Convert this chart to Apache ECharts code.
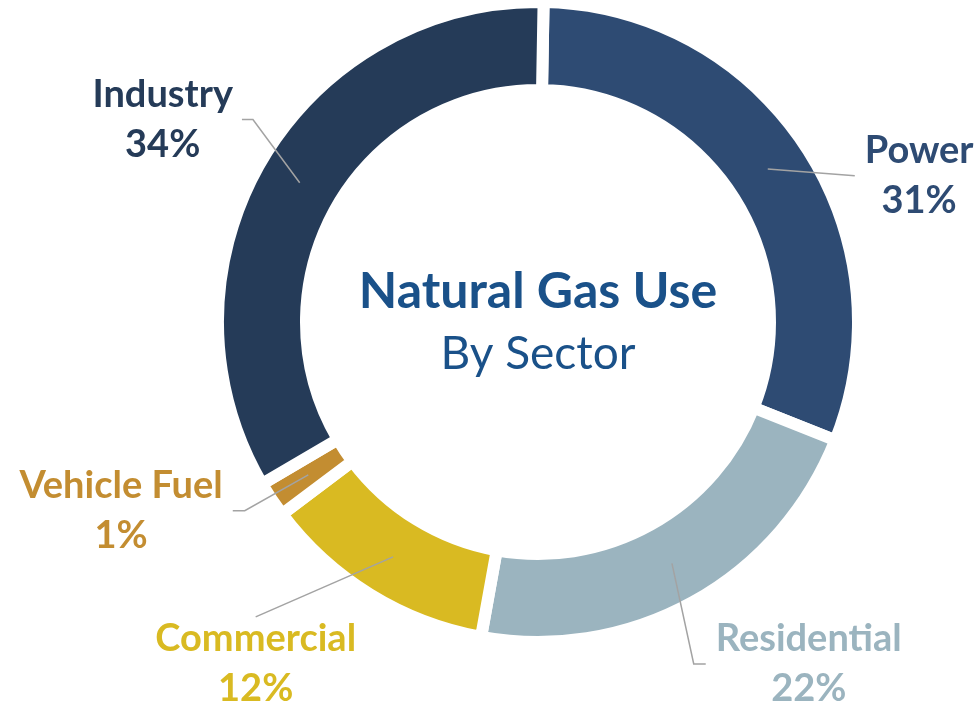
<!DOCTYPE html>
<html>
<head>
<meta charset="utf-8">
<script src="https://cdn.jsdelivr.net/npm/echarts@6/dist/echarts.min.js"></script>
<style>
html, body { margin: 0; padding: 0; background: #ffffff; }
#chart { width: 979px; height: 706px; }
</style>
</head>
<body>
<div id="chart"></div>
<script>
// ---- data ----
const categories = ['Power', 'Residential', 'Commercial', 'Vehicle Fuel', 'Industry'];
const shares = [31, 22, 12, 1, 34];
const titleText = 'Natural Gas Use';
const subtitleText = 'By Sector';

// ---- styles ----
const sliceColors = ['#2E4B73', '#9BB4BF', '#D9BA22', '#C38D31', '#253B58'];
const leadLength = [-12, 115, 125.7, 64.5, 125.4];
const leadLength2 = [97, -22, -34, 21.8, -50.5];
const labelGap = [10, 10, 5, 10, 9];
const leadStub = [0, 12, 0, 12, 11];
const leadMode = ['side', 'side', 'top', 'side', 'side'];

const FONT = 'Lato, "Noto Sans", sans-serif';
const CENTER = [538, 322];
const MIN_ANGLE = 6.5;

const ringData = categories.map((name, i) => ({
  name: name,
  value: shares[i],
  itemStyle: { color: sliceColors[i] }
}));

const labelData = categories.map((name, i) => ({
  name: name,
  value: shares[i],
  label: {
    color: sliceColors[i],
    distanceToLabelLine: labelGap[i],
    rich: {
      n: { color: sliceColors[i], fontFamily: FONT, fontSize: 38, fontWeight: 'bold', lineHeight: 50, align: 'center' },
      p: { color: sliceColors[i], fontFamily: FONT, fontSize: 38, fontWeight: 'bold', lineHeight: 50, align: 'center' }
    }
  },
  labelLine: { length: leadLength[i], length2: leadLength2[i] }
}));

const chart = echarts.init(document.getElementById('chart'), null, { renderer: 'canvas' });
chart.setOption({
  animation: false,
  backgroundColor: '#ffffff',
  title: {
    text: titleText,
    subtext: subtitleText,
    left: CENTER[0],
    top: 268,
    textAlign: 'center',
    padding: 0,
    itemGap: 12,
    textStyle: { fontFamily: FONT, fontSize: 50, fontWeight: 'bold', color: '#1A5189', lineHeight: 48 },
    subtextStyle: { fontFamily: FONT, fontSize: 46, fontWeight: 'normal', color: '#1A5189', lineHeight: 48 }
  },
  series: [
    {
      type: 'pie',
      center: CENTER,
      radius: [232, 320],
      startAngle: 89,
      clockwise: true,
      minAngle: MIN_ANGLE,
      avoidLabelOverlap: false,
      silent: true,
      label: { show: false },
      labelLine: { show: false },
      emphasis: { disabled: true },
      itemStyle: { borderColor: '#ffffff', borderWidth: 12 },
      data: ringData
    },
    {
      type: 'pie',
      center: CENTER,
      radius: [238, 276],
      startAngle: 89,
      clockwise: true,
      minAngle: MIN_ANGLE,
      avoidLabelOverlap: false,
      silent: true,
      z: 5,
      emphasis: { disabled: true },
      itemStyle: { color: 'rgba(0,0,0,0)', borderWidth: 0 },
      label: {
        show: true,
        position: 'outside',
        alignTo: 'none',
        formatter: function (p) { return '{n|' + p.name + '}\n{p|' + p.value + '%}'; }
      },
      labelLine: {
        show: true,
        smooth: false,
        lineStyle: { color: '#A3A3A3', width: 1.5 }
      },
      labelLayout: function (params) {
        const i = params.dataIndex;
        const pts = params.labelLinePoints;
        if (!pts) { return {}; }
        const p0 = pts[0];
        const p2 = pts[2];
        if (leadMode[i] === 'top') {
          const r = params.labelRect;
          const end = [r.x + r.width / 2, r.y - 3];
          return { labelLinePoints: [p0, end, end] };
        }
        const s = p2[0] < p0[0] ? leadStub[i] : -leadStub[i];
        return { labelLinePoints: [p0, [p2[0] + s, p2[1]], p2] };
      },
      data: labelData
    }
  ]
});
</script>
</body>
</html>
